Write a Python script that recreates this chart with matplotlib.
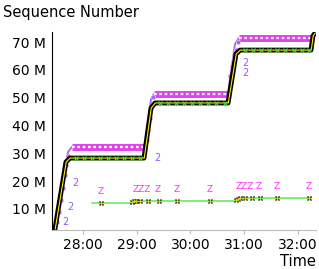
import matplotlib
matplotlib.use('Agg')
import matplotlib.pyplot as plt
from matplotlib.ticker import FuncFormatter, FixedLocator

# times in seconds (28:00 = 1680 s), sequence numbers in millions
seq_t = [1648.7, 1661.0, 1665.5, 1748.1, 1755.9, 1760.4, 1841.9, 1850.8, 1855.3, 1934.5, 1936.7, 1939.0]
seq_v = [2.8, 26.9, 28.3, 28.3, 46.3, 48.1, 48.1, 65.7, 67.1, 67.1, 72.2, 73.2]

win_t = [1649.9, 1663.3, 1667.7, 1750.3, 1755.9, 1759.3, 1841.9, 1849.7, 1854.1, 1936.7]
win_v = [3.9, 30.5, 32.3, 32.3, 49.5, 51.3, 51.3, 69.3, 71.4, 71.4]

rise_t = [1651.0, 1653.2, 1655.4, 1657.7, 1659.9, 1661.0, 1663.3,
          1758.1, 1755.9, 1754.8, 1752.6, 1751.4,
          1853.0, 1850.8, 1848.5, 1846.3, 1844.1]
rise_v = [5.3, 8.9, 13.2, 17.5, 22.2, 25.8, 29.0,
          50.2, 46.3, 42.7, 38.4, 34.8,
          70.0, 67.1, 64.3, 61.4, 57.8]

two_t = [1665.5, 1659.9, 1655.4, 1757.0, 1855.3, 1855.3]
two_v = [19.3, 10.7, 5.3, 28.3, 62.5, 58.9]

ack_t = [1672, 1681, 1690, 1699, 1708, 1717, 1726, 1735, 1744,
         1766, 1775, 1784, 1793, 1802, 1811, 1820, 1829, 1838,
         1861, 1870, 1879, 1888, 1897, 1906, 1915, 1924, 1932]
ack_v = [28.3] * 9 + [48.1] * 9 + [67.1] * 9

line_t = [1690.0, 1738.0, 1738.0, 1853.0, 1853.0, 1934.5]
line_v = [12.2, 12.2, 12.9, 12.9, 14.0, 14.0]

probe_t = [1700.1, 1734.7, 1736.9, 1739.2, 1743.6, 1752.6, 1764.8, 1784.9,
           1821.8, 1850.8, 1853.0, 1855.3, 1860.8, 1868.7, 1877.6, 1896.6, 1932.3]
probe_v = [12.2, 12.4, 12.7, 12.9, 12.9, 12.9, 12.9, 12.9,
           12.9, 13.2, 13.6, 14.0, 14.0, 14.0, 14.0, 14.0, 14.0]

z_t = [1700.1, 1745.8, 1763.7, 1784.9, 1821.8, 1861.0, 1876.5, 1896.6, 1932.3]
z_v = [12.2, 12.9, 12.9, 12.9, 12.9, 14.0, 14.0, 14.0, 14.0]
z_lab = ['Z', 'ZZZ', 'Z', 'Z', 'Z', 'ZZZ', 'Z', 'Z', 'Z']

fig = plt.figure(figsize=(3.19, 2.69), dpi=100)
ax = fig.add_axes([52/319, 1 - 230/269, (316 - 52)/319, (230 - 32)/269])

# window line
ax.plot(win_t, win_v, color='#aa77ee', lw=1.5, zorder=2)
for i in (2, 5, 8):
    ax.plot(win_t[i:i + 2], win_v[i:i + 2], color='#dd44ee', lw=5, solid_capstyle='butt', zorder=3)
    ax.plot(win_t[i:i + 2], win_v[i:i + 2], color='white', lw=1.6,
            linestyle=(0, (1.2, 1.2)), zorder=4)
ax.plot(rise_t, rise_v, 'o', ms=3, mfc='#9966ff', mec='#ffaadd', mew=0.5, ls='none', zorder=4)

# data segments + acks
ax.plot(seq_t, seq_v, color='black', lw=3.5, zorder=5, solid_joinstyle='round')
ax.plot([t + 0.3 for t in seq_t], seq_v, color='#ffee00', lw=0.8, zorder=6)
ax.plot(ack_t, ack_v, 'x', color='#44dd44', ms=2.5, mew=0.8, zorder=7)

for t, v in zip(two_t, two_v):
    ax.text(t + 2, v, '2', color='#9955ff', fontsize=7,
            ha='left', va='center', zorder=7)

# probe line
ax.plot(line_t, line_v, color='#66ee66', lw=1.2, zorder=3)
ax.plot(probe_t, probe_v, 'x', color='black', ms=3.5, mew=1.0, zorder=6)
ax.plot(probe_t, probe_v, '.', color='#dddd00', ms=2, zorder=7)
for t, v, s in zip(z_t, z_v, z_lab):
    ax.annotate(s, (t, v), xytext=(0, 8), textcoords='offset points',
                color='#ff33ff', fontsize=6.5, ha='center', va='center', zorder=7)

ax.set_xlim(1645.4, 1940.1)
ax.set_ylim(2.45, 73.6)

ax.xaxis.set_major_locator(FixedLocator([1680, 1740, 1800, 1860, 1920]))
ax.xaxis.set_major_formatter(FuncFormatter(lambda x, p: '%d:%02d' % (x // 60, x % 60)))
ax.yaxis.set_major_locator(FixedLocator([10, 20, 30, 40, 50, 60, 70]))
ax.yaxis.set_major_formatter(FuncFormatter(lambda y, p: '%d M' % y))

ax.spines['top'].set_visible(False)
ax.spines['right'].set_visible(False)
ax.spines['left'].set_color('black')
ax.spines['bottom'].set_color('#bbbbbb')
ax.tick_params(axis='y', length=0, pad=4.5, labelsize=10)
ax.tick_params(axis='x', length=3, color='#bbbbbb', pad=3, labelsize=10)

fig.text(3/319, 1 - 13/269, 'Sequence Number', fontsize=10.5, ha='left', va='center')
fig.text(316/319, 1 - 262/269, 'Time', fontsize=10.5, ha='right', va='center')

fig.savefig('out.png', dpi=100)
